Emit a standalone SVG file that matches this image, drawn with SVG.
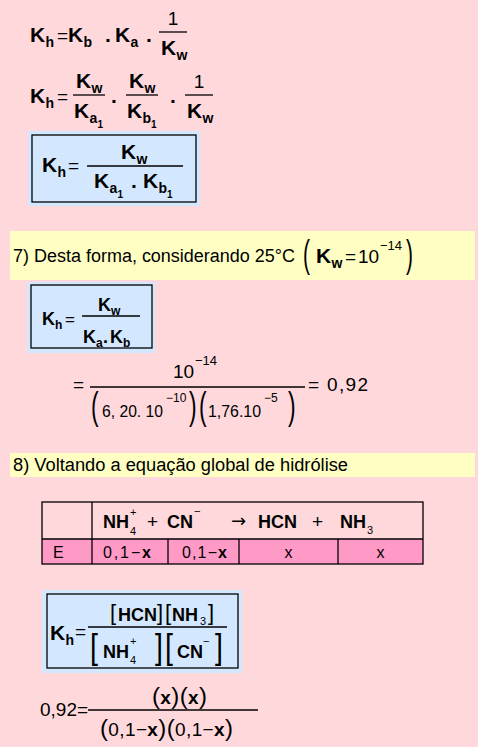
<svg xmlns="http://www.w3.org/2000/svg" width="478" height="747" viewBox="0 0 478 747">
<style>
text{font-family:"Liberation Sans",Arial,sans-serif;fill:#000}
.b{font-weight:bold;font-size:21px}
.sb{font-weight:bold;font-size:14px}
.ssb{font-weight:bold;font-size:10px}
.r{font-size:19px}
.t{font-size:19px}
.sup{font-size:13px}
.sup2{font-size:12px}
.p{font-size:38px}
.m{font-size:18px;font-weight:bold}
.bar{stroke:#000;stroke-width:1.3}
.box{fill:none;stroke:#000;stroke-width:1.3}
.blue{fill:#D3E8FF}
.yel{fill:#FFFFC4}
.cell{font-size:16px}
.tl{stroke:#000;stroke-width:1.3}
.s11{font-size:11px}
</style>
<rect width="478" height="747" fill="#FFD8DC"/>

<g id="eq1">
<text class="b" x="30" y="42">K</text><text class="sb" x="45.5" y="47">h</text>
<text class="r" x="57" y="42">=</text>
<text class="b" x="68" y="42">K</text><text class="sb" x="83.5" y="47">b</text>
<text class="b" x="105" y="42">.</text>
<text class="b" x="115" y="42">K</text><text class="sb" x="130.5" y="47">a</text>
<text class="b" x="146" y="42">.</text>
<text class="r" x="173" y="25" text-anchor="middle">1</text>
<line class="bar" x1="159" y1="32" x2="187" y2="32"/>
<text class="b" x="161" y="55">K</text><text class="sb" x="176.5" y="60">w</text>
</g>

<g id="eq2">
<text class="b" x="30" y="103">K</text><text class="sb" x="45.5" y="108">h</text>
<text class="r" x="57" y="103">=</text>
<text class="b" x="76" y="88">K</text><text class="sb" x="91.5" y="93">w</text>
<line class="bar" x1="73" y1="95" x2="105" y2="95"/>
<text class="b" x="74" y="118">K</text><text class="sb" x="89.5" y="123">a</text><text class="ssb" x="97.5" y="128">1</text>
<text class="b" x="111" y="103">.</text>
<text class="b" x="129" y="88">K</text><text class="sb" x="144.5" y="93">w</text>
<line class="bar" x1="126" y1="95" x2="158" y2="95"/>
<text class="b" x="127" y="118">K</text><text class="sb" x="142.5" y="123">b</text><text class="ssb" x="151" y="128">1</text>
<text class="b" x="170" y="103">.</text>
<text class="r" x="199" y="88" text-anchor="middle">1</text>
<line class="bar" x1="185" y1="95" x2="213" y2="95"/>
<text class="b" x="187" y="118">K</text><text class="sb" x="202.5" y="123">w</text>
</g>

<g id="box1">
<rect class="blue" x="28" y="131" width="172" height="75"/>
<rect class="box" x="32" y="135" width="164" height="67"/>
<text class="b" x="42" y="172">K</text><text class="sb" x="57.5" y="177">h</text>
<text class="r" x="68" y="172">=</text>
<text class="b" x="121" y="159">K</text><text class="sb" x="136.5" y="164">w</text>
<line class="bar" x1="87" y1="166" x2="183" y2="166"/>
<text class="b" x="94" y="188">K</text><text class="sb" x="109.5" y="193">a</text><text class="ssb" x="117.5" y="198">1</text>
<text class="b" x="131" y="188">.</text>
<text class="b" x="143" y="188">K</text><text class="sb" x="158.5" y="193">b</text><text class="ssb" x="167" y="198">1</text>
</g>

<g id="step7">
<rect class="yel" x="10" y="231" width="465" height="49"/>
<text x="13" y="262" style="font-size:18px" textLength="282" lengthAdjust="spacingAndGlyphs">7) Desta forma, considerando 25°C</text>
<text class="p" transform="translate(303,267) scale(0.55,1)">(</text>
<text class="b" x="316" y="263">K</text><text class="sb" x="331.5" y="268">w</text>
<text class="r" x="345" y="263">=</text>
<text class="r" x="358" y="263">10</text>
<text class="sup" x="380" y="250">−14</text>
<text class="p" transform="translate(406,267) scale(0.55,1)">)</text>
</g>

<g id="box2">
<rect class="blue" x="27" y="282" width="128" height="71"/>
<rect class="box" x="31" y="285" width="121" height="63"/>
<text class="b" x="42" y="325" style="font-size:18px">K</text><text class="sb" x="55" y="329" style="font-size:12px">h</text>
<text class="r" x="65" y="325" style="font-size:17px">=</text>
<text class="b" x="98" y="311" style="font-size:18px">K</text><text class="sb" x="111" y="315" style="font-size:12px">w</text>
<line class="bar" x1="82" y1="316" x2="140" y2="316"/>
<text class="b" x="83" y="343" style="font-size:18px">K</text><text class="sb" x="96" y="347" style="font-size:12px">a</text>
<text class="b" x="103" y="343" style="font-size:18px">.</text>
<text class="b" x="110" y="343" style="font-size:18px">K</text><text class="sb" x="123" y="347" style="font-size:12px">b</text>
</g>

<g id="calc">
<text class="r" x="73" y="391">=</text>
<text class="r" x="173" y="378">10</text>
<text class="sup" x="195" y="365">−14</text>
<line class="bar" x1="90" y1="387" x2="305" y2="387"/>
<text class="p" transform="translate(91,419) scale(0.6,1)">(</text>
<text x="102" y="417" style="font-size:16px" textLength="61" lengthAdjust="spacingAndGlyphs">6, 20. 10</text>
<text class="sup2" x="166" y="402">−10</text>
<text class="p" transform="translate(189,419) scale(0.6,1)">)</text>
<text class="p" transform="translate(199,419) scale(0.6,1)">(</text>
<text x="208" y="417" style="font-size:16px" textLength="53" lengthAdjust="spacingAndGlyphs">1,76.10</text>
<text class="sup2" x="264" y="402">−5</text>
<text class="p" transform="translate(288,419) scale(0.6,1)">)</text>
<text class="r" x="308" y="391" textLength="60" lengthAdjust="spacing">= 0,92</text>
</g>

<g id="step8">
<rect class="yel" x="10" y="453" width="465" height="24"/>
<text x="13" y="471" style="font-size:18px" textLength="335" lengthAdjust="spacingAndGlyphs">8) Voltando a equação global de hidrólise</text>
</g>

<g id="table">
<rect x="42" y="539" width="381" height="25" fill="#FF99C6"/>
<rect class="box" x="42" y="502" width="381" height="62"/>
<line class="tl" x1="42" y1="539" x2="423" y2="539"/>
<line class="tl" x1="92" y1="502" x2="92" y2="564"/>
<line class="tl" x1="168" y1="539" x2="168" y2="564"/>
<line class="tl" x1="239" y1="539" x2="239" y2="564"/>
<line class="tl" x1="338" y1="539" x2="338" y2="564"/>
<text class="m" x="103" y="528">NH</text>
<text class="s11" x="130" y="516">+</text>
<text class="s11" x="130" y="535">4</text>
<text class="r" x="147" y="528">+</text>
<text class="m" x="167" y="528">CN</text>
<text class="s11" x="194" y="515">−</text>
<text x="231" y="527" style="font-family:'DejaVu Sans',sans-serif;font-size:18px">→</text>
<text class="m" x="258" y="528">HCN</text>
<text class="r" x="312" y="528">+</text>
<text class="m" x="340" y="528">NH</text>
<text class="s11" x="367" y="534">3</text>
<text class="cell" x="53" y="558">E</text>
<text class="cell" x="103" y="558" textLength="48" lengthAdjust="spacing">0,1−<tspan font-weight="bold">x</tspan></text>
<text class="cell" x="182" y="558" textLength="45" lengthAdjust="spacing">0,1−<tspan font-weight="bold">x</tspan></text>
<text class="cell" x="288.5" y="558" text-anchor="middle">x</text>
<text class="cell" x="380.5" y="558" text-anchor="middle">x</text>
</g>

<g id="box3">
<rect class="blue" x="42" y="590" width="200" height="83"/>
<rect class="box" x="47" y="594" width="191" height="74"/>
<text class="b" x="50" y="640">K</text><text class="sb" x="65.5" y="645">h</text>
<text class="r" x="75" y="638">=</text>
<text x="110" y="620" style="font-size:22px">[</text>
<text class="m" x="118" y="621">HCN</text>
<text x="157" y="620" style="font-size:22px">]</text>
<text x="165" y="620" style="font-size:22px">[</text>
<text class="m" x="172" y="621">NH</text>
<text class="s11" x="200" y="625">3</text>
<text x="208" y="620" style="font-size:22px">]</text>
<line class="bar" x1="88" y1="627" x2="227" y2="627"/>
<text class="p" transform="translate(90,659) scale(0.75,0.92)">[</text>
<text class="m" x="103" y="658">NH</text>
<text class="s11" x="130" y="645">+</text>
<text class="s11" x="130" y="664">4</text>
<text class="p" transform="translate(155,659) scale(0.75,0.92)">]</text>
<text class="p" transform="translate(165,659) scale(0.75,0.92)">[</text>
<text class="m" x="177" y="658">CN</text>
<text class="s11" x="203" y="645">−</text>
<text class="p" transform="translate(215,659) scale(0.75,0.92)">]</text>
</g>

<g id="final">
<text class="r" x="40" y="716">0,92=</text>
<text class="r" x="152" y="704" textLength="55" lengthAdjust="spacing"><tspan style="font-size:24px">(</tspan><tspan font-weight="bold">x</tspan><tspan style="font-size:24px">)(</tspan><tspan font-weight="bold">x</tspan><tspan style="font-size:24px">)</tspan></text>
<line class="bar" x1="88" y1="710" x2="258" y2="710"/>
<text class="r" x="100" y="736" textLength="133" lengthAdjust="spacing"><tspan style="font-size:24px">(</tspan>0,1−<tspan font-weight="bold">x</tspan><tspan style="font-size:24px">)(</tspan>0,1−<tspan font-weight="bold">x</tspan><tspan style="font-size:24px">)</tspan></text>
</g>
</svg>
